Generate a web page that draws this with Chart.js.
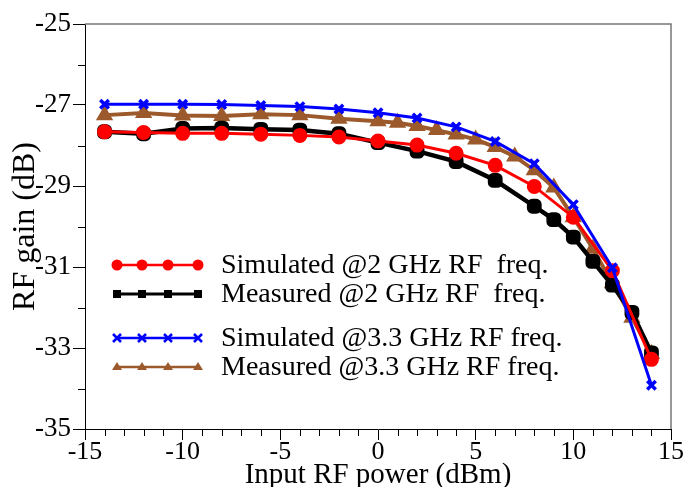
<!DOCTYPE html>
<html>
<head>
<meta charset="utf-8">
<script src="https://cdn.jsdelivr.net/npm/chart.js@4/dist/chart.umd.min.js"></script>
<style>
  body { margin: 0; background: #fff; }
  #wrap { width: 684px; height: 487px; }
</style>
</head>
<body>
<div id="wrap"><canvas id="gainChart" width="684" height="487"></canvas></div>
<script>
// input power (dBm) for each series
const xSim2 = [-14, -12, -10, -8, -6, -4, -2, 0, 2, 4, 6, 8, 10, 12, 14]
const xMeas2 = [-14, -12, -10, -8, -6, -4, -2, 0, 2, 4, 6, 8, 9, 10, 11, 12, 13, 14]
const xSim33 = [-14, -12, -10, -8, -6, -4, -2, 0, 2, 4, 6, 8, 10, 12, 14]
const xMeas33 = [-14, -12, -10, -8, -6, -4, -2, 0, 1, 2, 3, 4, 5, 6, 7, 8, 9, 10, 11, 12, 13, 14]

// RF gain (dB)
const sim2 = [-27.66, -27.68, -27.70, -27.70, -27.72, -27.75, -27.79, -27.89, -27.99, -28.19, -28.49, -29.01, -29.77, -31.09, -33.28]
const meas2 = [-27.66, -27.71, -27.58, -27.57, -27.60, -27.62, -27.71, -27.93, -28.14, -28.40, -28.86, -29.50, -29.83, -30.26, -30.86, -31.45, -32.12, -33.12]
const sim33 = [-26.98, -26.98, -26.98, -26.99, -27.01, -27.04, -27.10, -27.19, -27.32, -27.54, -27.90, -28.45, -29.46, -31.02, -33.92]
const meas33 = [-27.25, -27.20, -27.26, -27.27, -27.23, -27.25, -27.34, -27.40, -27.44, -27.52, -27.62, -27.73, -27.85, -28.04, -28.27, -28.61, -29.04, -29.77, -30.55, -31.40, -32.25, -33.15]

const seriesNames = ['Simulated @2 GHz RF  freq.', 'Measured @2 GHz RF  freq.', 'Simulated @3.3 GHz RF freq.', 'Measured @3.3 GHz RF freq.']

const serif = '"Liberation Serif", "Times New Roman", serif'

function pts(xs, ys) {
    return xs.map((x, i) => ({ x: x, y: ys[i] }))
}

const RED = '#ff0000'
const BLACK = '#000000'
const BLUE = '#0000ff'
const BROWN = '#9c5a2c'

const datasets = [
    { label: seriesNames[0], data: pts(xSim2, sim2), borderColor: RED, backgroundColor: RED,
      pointStyle: 'circle', pointRadius: 6, borderWidth: 3, order: 1 },
    { label: seriesNames[1], data: pts(xMeas2, meas2), borderColor: BLACK, backgroundColor: BLACK,
      pointStyle: 'rectRounded', pointRadius: 6, borderWidth: 4.5, order: 2 },
    { label: seriesNames[2], data: pts(xSim33, sim33), borderColor: BLUE, backgroundColor: BLUE,
      pointStyle: 'crossRot', pointRadius: 6, borderWidth: 3, pointBorderWidth: 3.5, order: 0 },
    { label: seriesNames[3], data: pts(xMeas33, meas33), borderColor: BROWN, backgroundColor: BROWN,
      pointStyle: 'triangle', pointRadius: 6, borderWidth: 4, order: 3 },
]

const isMajorX = (v) => v % 5 === 0
const isMajorY = (v) => Math.abs(v) % 2 === 1

// frame on top/right, short minor ticks, and the in-plot legend
const extras = {
    id: 'extras',
    afterDraw(chart) {
        const ctx = chart.ctx
        const a = chart.chartArea
        const xs = chart.scales.x
        const ys = chart.scales.y
        ctx.save()
        ctx.strokeStyle = '#777'
        ctx.lineWidth = 1.5
        ctx.beginPath()
        ctx.moveTo(a.left, a.top)
        ctx.lineTo(a.right, a.top)
        ctx.lineTo(a.right, a.bottom)
        ctx.stroke()

        ctx.strokeStyle = '#000'
        ctx.lineWidth = 1
        ctx.beginPath()
        xs.ticks.forEach(t => {
            if (isMajorX(t.value)) return
            const px = Math.round(xs.getPixelForValue(t.value)) + 0.5
            ctx.moveTo(px, a.bottom); ctx.lineTo(px, a.bottom + 7)
        })
        ys.ticks.forEach(t => {
            if (isMajorY(t.value)) return
            const py = Math.round(ys.getPixelForValue(t.value)) + 0.5
            ctx.moveTo(a.left, py); ctx.lineTo(a.left - 7, py)
        })
        ctx.stroke()

        const rows = [265, 294, 338, 367]
        const marks = [117, 142, 168, 198]
        ctx.font = '28px ' + serif
        ctx.textBaseline = 'middle'
        chart.data.datasets.forEach((ds, i) => {
            const y = rows[i]
            ctx.strokeStyle = ds.borderColor
            ctx.lineWidth = i === 1 ? 3 : 2.5
            ctx.beginPath()
            ctx.moveTo(marks[0], y)
            ctx.lineTo(marks[3], y)
            ctx.stroke()
            marks.forEach(mx => {
                ctx.fillStyle = ds.borderColor
                if (i === 0) {
                    ctx.beginPath(); ctx.arc(mx, y, 5.5, 0, Math.PI * 2); ctx.fill()
                } else if (i === 1) {
                    ctx.fillRect(mx - 4, y - 4, 8, 8)
                } else if (i === 2) {
                    ctx.lineWidth = 2.5
                    ctx.beginPath()
                    ctx.moveTo(mx - 4, y - 4); ctx.lineTo(mx + 4, y + 4)
                    ctx.moveTo(mx + 4, y - 4); ctx.lineTo(mx - 4, y + 4)
                    ctx.stroke()
                } else {
                    ctx.beginPath()
                    ctx.moveTo(mx, y - 5); ctx.lineTo(mx + 5, y + 3); ctx.lineTo(mx - 5, y + 3)
                    ctx.closePath(); ctx.fill()
                }
            })
            ctx.fillStyle = '#000'
            ctx.fillText(ds.label, 221, y + 1)
        })
        ctx.restore()
    }
}

new Chart(document.getElementById('gainChart'), {
    type: 'line',
    data: { datasets: datasets },
    plugins: [extras],
    options: {
        responsive: false,
        animation: false,
        layout: { padding: { top: 24, right: 13, left: 6, bottom: -6 } },
        plugins: {
            legend: { display: false },
            tooltip: { enabled: false },
        },
        scales: {
            x: {
                type: 'linear',
                min: -15,
                max: 15,
                afterFit: (s) => { s.height = 64 },
                ticks: {
                    stepSize: 1,
                    autoSkip: false,
                    maxRotation: 0,
                    padding: -3,
                    color: '#000',
                    font: { family: serif, size: 26 },
                    callback: (v) => (isMajorX(v) ? String(v) : ''),
                },
                grid: {
                    drawOnChartArea: false, drawTicks: true, tickLength: 11,
                    color: (c) => (c.tick && isMajorX(c.tick.value) ? '#000' : 'rgba(0,0,0,0)'),
                },
                border: { color: '#000', width: 1 },
                title: {
                    display: true,
                    text: 'Input RF power (dBm)',
                    color: '#000',
                    font: { family: serif, size: 29 },
                    padding: { top: -8, bottom: 0 },
                },
            },
            y: {
                min: -35,
                max: -25,
                afterFit: (s) => { s.width = 79 },
                ticks: {
                    stepSize: 1,
                    autoSkip: false,
                    padding: 2,
                    color: '#000',
                    font: { family: serif, size: 27 },
                    callback: (v) => (isMajorY(v) ? String(v) : ''),
                },
                grid: {
                    drawOnChartArea: false, drawTicks: true, tickLength: 12,
                    color: (c) => (c.tick && isMajorY(c.tick.value) ? '#000' : 'rgba(0,0,0,0)'),
                },
                border: { color: '#000', width: 1 },
                title: {
                    display: true,
                    text: 'RF gain (dB)',
                    color: '#000',
                    font: { family: serif, size: 32 },
                    padding: { top: 0, bottom: -8 },
                },
            },
        },
    },
})
</script>
</body>
</html>
